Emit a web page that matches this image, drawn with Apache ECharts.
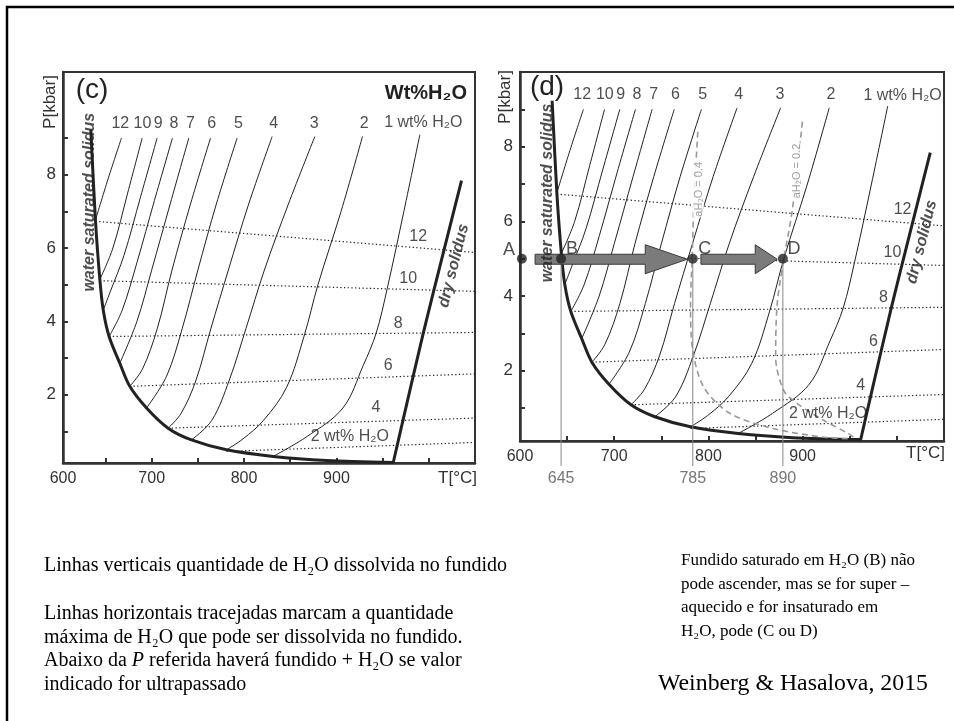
<!DOCTYPE html>
<html>
<head>
<meta charset="utf-8">
<title>Solidus e isopletas de H2O</title>
<script src="https://cdn.jsdelivr.net/npm/echarts@6.0.0/dist/echarts.min.js"></script>
<style>
  html, body { margin: 0; background: #fff; }
  #main { width: 954px; height: 721px; }
</style>
</head>
<body>
<div id="main"></div>
<script>
// T in °C, P in kbar

// water saturated solidus
const wetSolidus = [[634.1, 9.23], [639.2, 6.73], [643.9, 5.14], [647.5, 4.32], [653.9, 3.59], [665.5, 2.86],
  [676.3, 2.23], [694.4, 1.64], [717.8, 1.09], [743.1, 0.77], [781, 0.50], [831.5, 0.32], [889.3, 0.21], [961.4, 0.157]];
const drySolidus = [[961.4, 0.14], [972, 1.3], [994, 3.68], [1013, 5.6], [1035.4, 7.84]];

// H2O in the melt (wt%), solid lines, from top down to the wet solidus
const isoplethNames = ['12', '10', '9', '8', '7', '6', '5', '4', '3', '2', '1'];
const isopleths = [
  [[667.3, 9.0], [653, 7.9], [639.2, 6.77]],
  [[689.7, 9.0], [674, 7.5], [658, 6.0], [644, 5.15]],
  [[705.9, 9.0], [688, 7.4], [670, 5.8], [655, 4.8], [647.7, 4.32]],
  [[722.5, 9.0], [703, 7.3], [684, 5.6], [668, 4.3], [654, 3.59]],
  [[740.2, 9.0], [720, 7.2], [700, 5.4], [684, 4.0], [665.5, 2.86]],
  [[763.7, 9.0], [742, 7.2], [722, 5.4], [706, 3.8], [690, 2.7], [676.3, 2.23]],
  [[792.5, 9.0], [770, 7.2], [750, 5.4], [733, 3.8], [716, 2.5], [694.4, 1.64]],
  [[830.4, 9.04], [805, 7.2], [783, 5.4], [764, 3.8], [748, 2.4], [732, 1.5], [717.8, 1.09]],
  [[876.6, 9.04], [848, 7.2], [822, 5.4], [802, 3.8], [784, 2.4], [765, 1.3], [743.1, 0.77]],
  [[928.2, 9.04], [905, 7.0], [880, 5.0], [865, 3.6], [846, 2.2], [821, 1.3], [799, 0.8], [781, 0.5]],
  [[990.3, 9.09], [973, 7.0], [955, 4.9], [943, 3.68], [929, 2.8], [907, 1.64], [868, 0.86], [831.5, 0.32]]
];
const topLabelT = [666, 690, 707, 724, 742, 765, 794, 832, 876, 930];
const topLabelP = 9.4;
const oneWtLabelC = [994, 9.41];
const oneWtLabelD = [1006, 9.36];

// maximum H2O that can dissolve (dotted)
const isobarNames = ['12', '10', '8', '6', '4', '2 wt% H₂O'];
const isobars = [
  [[639.2, 6.73], [1050, 5.88]],
  [[643.9, 5.11], [1050, 4.82]],
  [[653.9, 3.59], [1050, 3.70]],
  [[676.3, 2.23], [1050, 2.57]],
  [[717.8, 1.09], [1050, 1.365]],
  [[781, 0.456], [1050, 0.70]]
];
const isobarLabelsC = [[988.5, 6.32], [977.7, 5.18], [966.9, 3.95], [956, 2.80], [942.7, 1.64], [914.5, 0.865]];
const isobarLabelsD = [[1006, 6.32], [995.3, 5.16], [985.8, 3.95], [975, 2.77], [961.6, 1.61], [926.9, 0.866]];

// water activity curves, panel (d)
const aH2O04 = [[788.7, 8.4], [784.5, 6.48], [782.8, 5.05], [781, 3.8], [782.8, 2.64], [795, 1.56],
  [823.5, 0.85], [869.5, 0.45], [922.6, 0.22], [951, 0.18]];
const aH2O02 = [[899.7, 8.67], [889, 6.3], [880, 5.0], [873, 3.8], [871.3, 2.37], [880, 1.47],
  [894.4, 1.12], [922.6, 0.67], [949.2, 0.31], [955, 0.2]];

// ascent path, panel (d)
const pointNames = ['A', 'B', 'C', 'D'];
const pointT = [602, 643.6, 783.4, 879];
const pointP = 5.0;
const markerT = [643.6, 783.4, 879];
const markerLabels = ['645', '785', '890'];
const arrows = [[616, 5.0, 777.5], [792, 5.0, 873]];

const tempTicks = [650, 700, 750, 800, 850, 900, 950, 1000];
const tempLabels = [600, 700, 800, 900];
const presTicks = [1, 2, 3, 4, 5, 6, 7, 8, 9];
const presLabels = [2, 4, 6, 8];

const SANS = 'Liberation Sans, Arial, sans-serif';
const SERIF = 'Liberation Serif, Times New Roman, serif';
const INK = '#222';

const panels = [
  { grid: { left: 63, top: 72, width: 412, height: 391 }, tMin: 604, tMax: 1050, pMin: 0.14, pMax: 10.8,
    oneWt: oneWtLabelC, isobarLabels: isobarLabelsC, wetLabel: [632.7, 7.25], dryLabel: [1027, 5.52] },
  { grid: { left: 520, top: 72, width: 424, height: 369 }, tMin: 600, tMax: 1050, pMin: 0.12, pMax: 10.0,
    oneWt: oneWtLabelD, isobarLabels: isobarLabelsD, wetLabel: [628.9, 6.76], dryLabel: [1026.4, 5.45] }
];

function textSeries(idx, items, label) {
  return {
    type: 'scatter', xAxisIndex: idx, yAxisIndex: idx, symbolSize: 0, silent: true, z: 8,
    data: items.map(([t, p, s]) => ({ name: s, value: [t, p] })),
    label: Object.assign({ show: true, position: 'inside', formatter: (q) => q.name,
      fontFamily: SANS, fontSize: 16, color: INK }, label)
  };
}

const grids = [], xAxes = [], yAxes = [], series = [];
panels.forEach((pn, i) => {
  grids.push(Object.assign({ show: true, borderColor: '#333', borderWidth: 2, backgroundColor: 'transparent',
    outerBoundsMode: 'none' }, pn.grid));
  xAxes.push({
    type: 'value', gridIndex: i, min: pn.tMin, max: pn.tMax,
    splitLine: { show: false },
    axisLine: { lineStyle: { color: '#333', width: 2.5 } },
    axisTick: { inside: true, length: 5, customValues: tempTicks, lineStyle: { color: '#333', width: 2 } },
    axisLabel: { customValues: tempLabels.map(v => Math.max(v, pn.tMin)),
      formatter: v => (v < 650 ? '600' : String(v)),
      fontFamily: SANS, fontSize: 16, color: '#333', margin: 8 }
  });
  yAxes.push({
    type: 'value', gridIndex: i, min: pn.pMin, max: pn.pMax,
    splitLine: { show: false },
    axisLine: { lineStyle: { color: '#333', width: 2.5 } },
    axisTick: { inside: true, length: 5, customValues: presTicks, lineStyle: { color: '#333', width: 2 } },
    axisLabel: { customValues: presLabels, fontFamily: SANS, fontSize: 17, color: '#333', margin: 7 }
  });

  isobars.forEach(d => series.push({
    type: 'line', xAxisIndex: i, yAxisIndex: i, data: d, showSymbol: false, silent: true, z: 2,
    lineStyle: { color: INK, width: 1.2, type: [1.3, 2.4] }
  }));
  isopleths.forEach(d => series.push({
    type: 'line', xAxisIndex: i, yAxisIndex: i, data: d, showSymbol: false, silent: true, z: 3,
    smooth: 0.35, lineStyle: { color: INK, width: 1 }
  }));
  [wetSolidus, drySolidus].forEach(d => series.push({
    type: 'line', xAxisIndex: i, yAxisIndex: i, data: d, showSymbol: false, silent: true, z: 4,
    smooth: 0.3, lineStyle: { color: INK, width: 3 }
  }));

  const tops = topLabelT.map((t, k) => [t, topLabelP, isoplethNames[k]]);
  tops.push([pn.oneWt[0], pn.oneWt[1], '1 wt% H₂O']);
  series.push(textSeries(i, tops, {}));
  series.push(textSeries(i, pn.isobarLabels.map((p, k) => [p[0], p[1], isobarNames[k]]), {}));
  series.push(textSeries(i, [[pn.wetLabel[0], pn.wetLabel[1], 'water saturated solidus']],
    { rotate: 90, fontSize: 16, fontWeight: 'bold', fontStyle: 'italic' }));
  series.push(textSeries(i, [[pn.dryLabel[0], pn.dryLabel[1], 'dry solidus']],
    { rotate: 76, fontSize: 16, fontWeight: 'bold', fontStyle: 'italic' }));
});

// panel (d) extras
[aH2O04, aH2O02].forEach(d => series.push({
  type: 'line', xAxisIndex: 1, yAxisIndex: 1, data: d, showSymbol: false, silent: true, z: 5,
  smooth: 0.3, lineStyle: { color: '#999', width: 1.6, type: [6, 4] }
}));
series.push(textSeries(1, [[789.5, 6.86, 'aH₂O = 0.4'], [893.6, 7.35, 'aH₂O = 0.2']],
  { rotate: 90, fontSize: 11, color: '#888', backgroundColor: '#fff', padding: [0, 1] }));

series.push({
  type: 'custom', xAxisIndex: 1, yAxisIndex: 1, z: 6, clip: false, silent: true,
  data: markerT.map(t => [t, pointP]),
  renderItem(params, api) {
    const top = api.coord([api.value(0), api.value(1)]);
    const base = api.coord([api.value(0), panels[1].pMin]);
    return { type: 'group', children: [
      { type: 'line', shape: { x1: top[0], y1: top[1], x2: top[0], y2: base[1] + 25 },
        style: { stroke: '#888', lineWidth: 1 } },
      { type: 'text', style: { text: markerLabels[params.dataIndex], x: top[0], y: base[1] + 38,
        align: 'center', verticalAlign: 'middle', fontSize: 16, fontFamily: SANS, fill: '#777' } }
    ] };
  }
});

const arrowHead = [42, 22];
series.push({
  type: 'custom', xAxisIndex: 1, yAxisIndex: 1, z: 7, silent: true,
  data: arrows,
  renderItem(params, api) {
    const a = api.coord([api.value(0), api.value(1)]);
    const b = api.coord([api.value(2), api.value(1)]);
    const y = a[1] + 0.5, hx = b[0] - arrowHead[params.dataIndex];
    return { type: 'polygon',
      shape: { points: [[a[0], y - 5], [hx, y - 5], [hx, y - 14.5], [b[0], y], [hx, y + 14.5], [hx, y + 5], [a[0], y + 5]] },
      style: { fill: '#7b7b7b', stroke: '#3a3a3a', lineWidth: 1 } };
  }
});

const labelPos = { A: [-13, -9], B: [11, -10], C: [12, -10], D: [11, -10] };
series.push({
  type: 'scatter', xAxisIndex: 1, yAxisIndex: 1, z: 9, symbolSize: 10, silent: true, clip: false,
  itemStyle: { color: INK },
  data: pointNames.map((n, k) => ({ name: n, value: [pointT[k], pointP],
    label: { offset: labelPos[n] } })),
  label: { show: true, position: 'inside', formatter: q => q.name, fontFamily: SANS, fontSize: 18, color: INK }
});

// slide frame, panel marks and notes
const graphic = [
  { type: 'rect', shape: { x: 7, y: 7, width: 960, height: 730 }, style: { fill: 'none', stroke: '#000', lineWidth: 2.5 } },
  { type: 'text', x: 92, y: 90, style: { text: '(c)', fontSize: 28, fontFamily: SANS, fill: INK, align: 'center', verticalAlign: 'middle' } },
  { type: 'text', x: 547, y: 87, style: { text: '(d)', fontSize: 28, fontFamily: SANS, fill: INK, align: 'center', verticalAlign: 'middle' } },
  { type: 'text', x: 467, y: 93, style: { text: 'Wt%H₂O', fontSize: 20, fontWeight: 'bold', fontFamily: SANS, fill: INK, align: 'right', verticalAlign: 'middle' } },
  { type: 'text', x: 50, y: 102, rotation: Math.PI / 2, style: { text: 'P[kbar]', fontSize: 17, fontFamily: SANS, fill: '#333', align: 'center', verticalAlign: 'middle' } },
  { type: 'text', x: 505, y: 97, rotation: Math.PI / 2, style: { text: 'P[kbar]', fontSize: 17, fontFamily: SANS, fill: '#333', align: 'center', verticalAlign: 'middle' } },
  { type: 'text', x: 477, y: 478, style: { text: 'T[°C]', fontSize: 17, fontFamily: SANS, fill: '#333', align: 'right', verticalAlign: 'middle' } },
  { type: 'text', x: 945, y: 453, style: { text: 'T[°C]', fontSize: 17, fontFamily: SANS, fill: '#333', align: 'right', verticalAlign: 'middle' } }
];

const leftNotes = [
  ['Linhas verticais quantidade de H₂O dissolvida no fundido', 566],
  ['Linhas horizontais tracejadas marcam a quantidade', 614],
  ['máxima de H₂O que pode ser dissolvida no fundido.', 638],
  ['Abaixo da {i|P} referida haverá fundido + H₂O se valor', 661],
  ['indicado for ultrapassado', 685]
];
leftNotes.forEach(([t, y]) => graphic.push({ type: 'text', x: 44, y: y,
  style: { text: t, fontSize: 20, fontFamily: SERIF, fill: '#000', verticalAlign: 'middle',
    rich: { i: { fontStyle: 'italic', fontSize: 20, fontFamily: SERIF } } } }));
const rightNotes = [
  ['Fundido saturado em H₂O (B) não', 561],
  ['pode ascender, mas se for super –', 585],
  ['aquecido e for insaturado em', 608],
  ['H₂O, pode (C ou D)', 632]
];
rightNotes.forEach(([t, y]) => graphic.push({ type: 'text', x: 681, y: y,
  style: { text: t, fontSize: 17, fontFamily: SERIF, fill: '#000', verticalAlign: 'middle' } }));
graphic.push({ type: 'text', x: 658, y: 684,
  style: { text: 'Weinberg & Hasalova, 2015', fontSize: 23.8, fontFamily: SERIF, fill: '#000', verticalAlign: 'middle' } });

const chart = echarts.init(document.getElementById('main'));
chart.setOption({
  animation: false,
  backgroundColor: '#fff',
  grid: grids,
  xAxis: xAxes,
  yAxis: yAxes,
  series: series,
  graphic: graphic
});
</script>
</body>
</html>
